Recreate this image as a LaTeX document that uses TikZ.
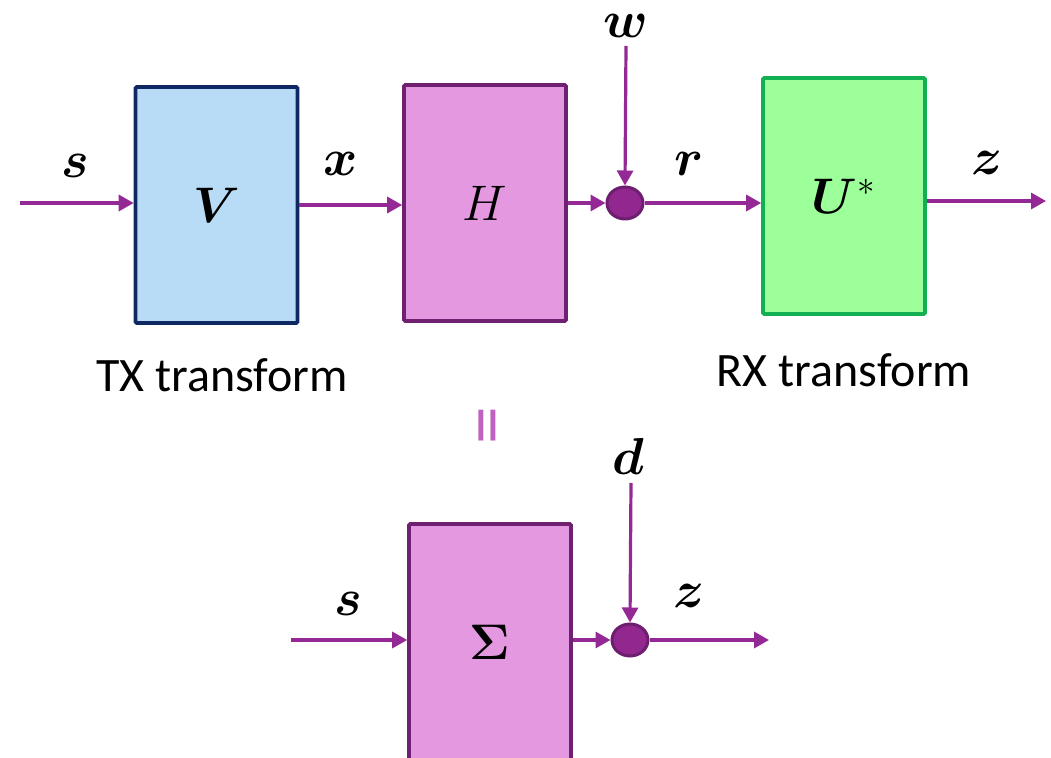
\RequirePackage{fix-cm}
\documentclass[tikz,border=0pt]{standalone}
\usepackage{amsmath,bm}
\usepackage{fontspec}
\newfontfamily\capfont{Carlito}
\usetikzlibrary{arrows.meta,shapes.geometric}
\definecolor{vfill}{RGB}{184,220,246}
\definecolor{vdraw}{RGB}{15,40,100}
\definecolor{hfill}{RGB}{228,152,224}
\definecolor{hdraw}{RGB}{112,32,112}
\definecolor{ufill}{RGB}{157,255,153}
\definecolor{udraw}{RGB}{18,176,80}
\definecolor{arrcol}{RGB}{148,40,148}
\definecolor{dotfill}{RGB}{146,39,143}
\definecolor{dotdraw}{RGB}{110,30,110}
\definecolor{eqcol}{RGB}{192,96,192}
\begin{document}
\begin{tikzpicture}[x=0.5pt,y=-0.5pt,
  box/.style={rectangle,minimum width=81pt,minimum height=118pt,line width=1.8pt,rounded corners=0.6pt,inner sep=0pt,font=\fontsize{25}{30}\selectfont},
  dot/.style={ellipse,minimum width=18pt,minimum height=16pt,inner sep=0pt,fill=dotfill,draw=dotdraw,line width=1.5pt},
  arr/.style={draw=arrcol,line width=1.6pt,-{Triangle[length=7.5pt,width=8pt]}},
  mlab/.style={font=\fontsize{26}{30}\selectfont,inner sep=0pt},
  captext/.style={font=\capfont\fontsize{24}{28}\selectfont,inner sep=0pt}]
\useasboundingbox (0,0) rectangle (1051,758);
\clip (0,0) rectangle (1051,758);
% top row
\node[box,fill=vfill,draw=vdraw] (V) at (216.5,205) {$\bm{V}$};
\node[box,fill=hfill,draw=hdraw] (H) at (485,203) {$H$};
\node[dot] (c1) at (625,203) {};
\node[box,fill=ufill,draw=udraw] (U) at (844,196) {$\bm{U}^{*}$};
\coordinate (sin) at (20,203);
\coordinate (win) at (626,46);
\coordinate (zout) at (1046,201);
\draw[arr] (sin) -- (sin -| V.west);
\draw[arr] (V.east) -- (V.east -| H.west);
\draw[arr] (H.east |- c1) -- (c1.west);
\draw[arr] (win) -- (c1.north);
\draw[arr] (c1.east) -- (c1.east -| U.west);
\draw[arr] (U.east |- zout) -- (zout);
\node[mlab] (ls) at (75,166) {$\bm{s}$};
\node[mlab] (lx) at (341,164) {$\bm{x}$};
\node[mlab] (lw) at (626,26) {$\bm{w}$};
\node[mlab] (lr) at (689,164) {$\bm{r}$};
\node[mlab] (lz) at (987,163) {$\bm{z}$};
\node[captext] (tx) at (222,375) {TX transform};
\node[captext] (rx) at (844,370) {RX transform};
\node[font=\capfont\fontsize{38}{42}\selectfont,text=eqcol,rotate=90,inner sep=0pt] (eq) at (495,426) {=};
% bottom row
\node[box,fill=hfill,draw=hdraw] (S) at (490,642) {$\bm{\Sigma}$};
\node[dot] (c2) at (630,640) {};
\coordinate (sin2) at (291,640);
\coordinate (din) at (631,483);
\coordinate (zout2) at (769,640);
\draw[arr] (sin2) -- (S.west |- sin2);
\draw[arr] (S.east |- c2) -- (c2.west);
\draw[arr] (din) -- (c2.north);
\draw[arr] (c2.east) -- (zout2);
\node[mlab] (ls2) at (348,604) {$\bm{s}$};
\node[mlab] (ld) at (628,456) {$\bm{d}$};
\node[mlab] (lz2) at (689,596) {$\bm{z}$};
\end{tikzpicture}
\end{document}
